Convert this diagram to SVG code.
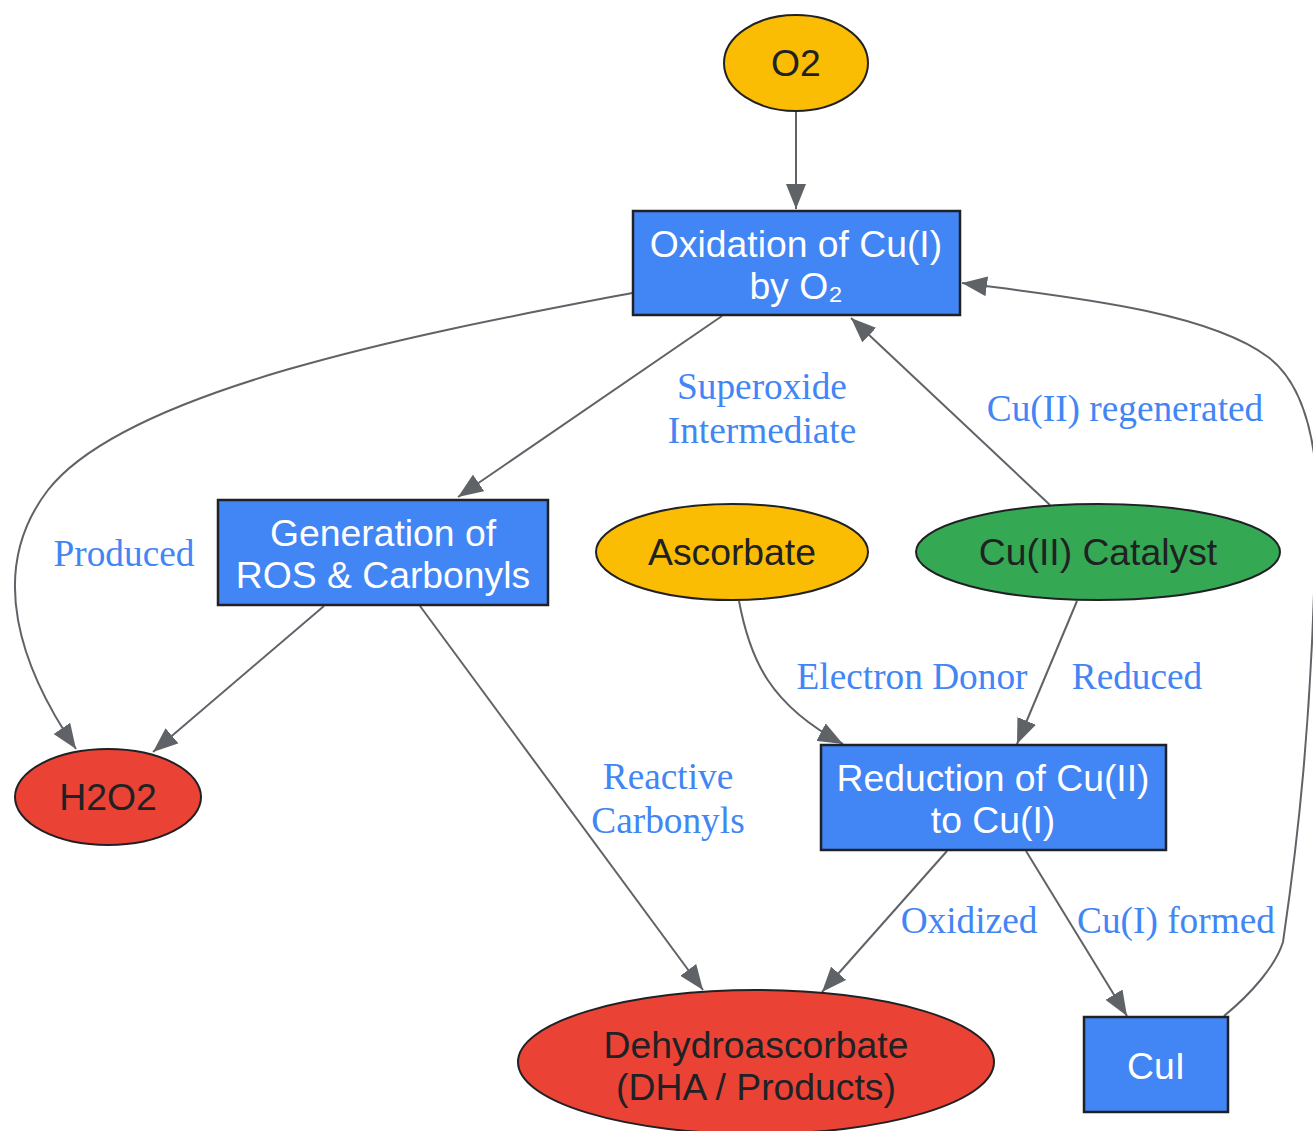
<svg xmlns="http://www.w3.org/2000/svg" width="1313" height="1131" viewBox="0 0 1313 1131">
<style>
.box{fill:#4285F4;stroke:#202124;stroke-width:2.5}
.ell{stroke:#202124;stroke-width:2}
.nt{font-family:"Liberation Sans",Arial,sans-serif;font-size:37.3px;text-anchor:middle}
.w{fill:#ffffff}
.d{fill:#202124}
.e{fill:none;stroke:#5f6368;stroke-width:2}
.lb{font-family:"Liberation Serif","Times New Roman",serif;font-size:37.3px;fill:#4285F4;text-anchor:middle}
</style>
<defs>
<marker id="a" viewBox="0 0 25 20" refX="25" refY="10" markerWidth="25" markerHeight="20" markerUnits="userSpaceOnUse" orient="auto">
<path d="M0,0 L25,10 L0,20 z" fill="#5f6368"/>
</marker>
</defs>
<rect width="1313" height="1131" fill="#ffffff"/>
<g id="edges">
<path class="e" marker-end="url(#a)" d="M796,112 L796,209"/>
<path class="e" marker-end="url(#a)" d="M722,316 L458,497"/>
<path class="e" marker-end="url(#a)" d="M632,293 C450,328 130,385 48,490 C-15,572 22,670 76,749"/>
<path class="e" marker-end="url(#a)" d="M324,606 L153,752"/>
<path class="e" marker-end="url(#a)" d="M420,606 L703,990"/>
<path class="e" marker-end="url(#a)" d="M1050,505 L851,318"/>
<path class="e" marker-end="url(#a)" d="M739,601 C750,660 770,705 843,744"/>
<path class="e" marker-end="url(#a)" d="M1077,601 L1017,744"/>
<path class="e" marker-end="url(#a)" d="M947,851 L822,992"/>
<path class="e" marker-end="url(#a)" d="M1026,851 L1127,1016"/>
<path class="e" marker-end="url(#a)" d="M1224,1016 C1252,993 1276,965 1283,942 C1292,880 1316,720 1316,470 C1310,410 1292,375 1268,357 C1205,310 1060,296 962,283"/>
<text class="lb" x="762" y="399">Superoxide</text>
<text class="lb" x="762" y="443">Intermediate</text>
<text class="lb" x="124" y="566">Produced</text>
<text class="lb" x="668" y="789">Reactive</text>
<text class="lb" x="668" y="833">Carbonyls</text>
<text class="lb" x="1125" y="421">Cu(II) regenerated</text>
<text class="lb" x="912" y="689">Electron Donor</text>
<text class="lb" x="1137" y="689">Reduced</text>
<text class="lb" x="969" y="933">Oxidized</text>
<text class="lb" x="1176" y="933">Cu(I) formed</text>
</g>
<g id="n_o2">
<ellipse class="ell" cx="796" cy="63" rx="72" ry="48" fill="#FBBC04"/>
<text class="nt d" x="796" y="76">O2</text>
</g>
<g id="n_oxidation">
<rect class="box" x="633" y="211" width="327" height="104"/>
<text class="nt w" x="796" y="257">Oxidation of Cu(I)</text>
<text class="nt w" x="796" y="299">by O₂</text>
</g>
<g id="n_generation">
<rect class="box" x="218" y="500" width="330" height="105"/>
<text class="nt w" x="383" y="546">Generation of</text>
<text class="nt w" x="383" y="588">ROS &amp; Carbonyls</text>
</g>
<g id="n_ascorbate">
<ellipse class="ell" cx="732" cy="552" rx="136" ry="48" fill="#FBBC04"/>
<text class="nt d" x="732" y="565">Ascorbate</text>
</g>
<g id="n_catalyst">
<ellipse class="ell" cx="1098" cy="552" rx="182" ry="48" fill="#34A853"/>
<text class="nt d" x="1098" y="565">Cu(II) Catalyst</text>
</g>
<g id="n_h2o2">
<ellipse class="ell" cx="108" cy="797" rx="93" ry="48" fill="#EA4335"/>
<text class="nt d" x="108" y="810">H2O2</text>
</g>
<g id="n_reduction">
<rect class="box" x="821" y="745" width="345" height="105"/>
<text class="nt w" x="993" y="791">Reduction of Cu(II)</text>
<text class="nt w" x="993" y="833">to Cu(I)</text>
</g>
<g id="n_dha">
<ellipse class="ell" cx="756" cy="1062" rx="238" ry="72" fill="#EA4335"/>
<text class="nt d" x="756" y="1058">Dehydroascorbate</text>
<text class="nt d" x="756" y="1100">(DHA / Products)</text>
</g>
<g id="n_cui">
<rect class="box" x="1084" y="1017" width="144" height="95"/>
<text class="nt w" x="1156" y="1079">CuI</text>
</g>
</svg>
